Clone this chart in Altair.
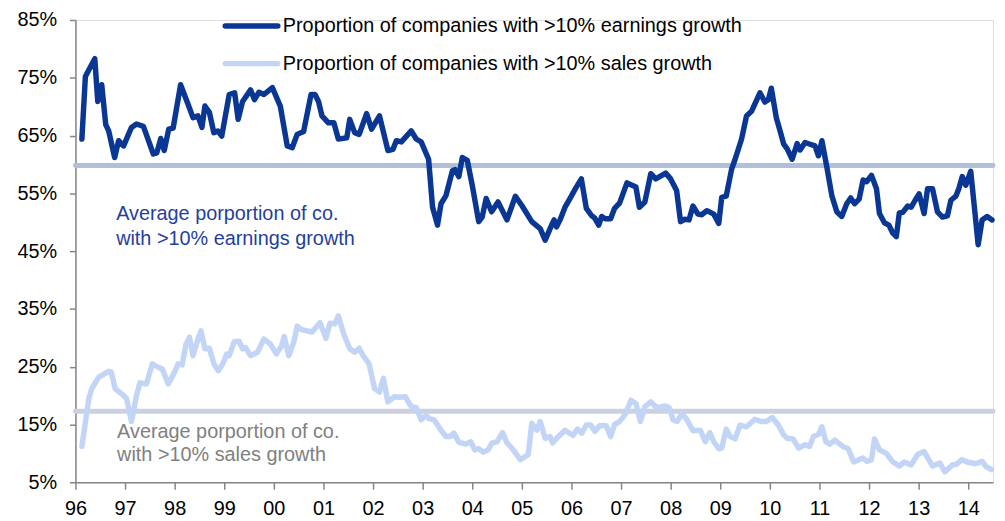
import altair as alt
import pandas as pd

# ---------------- data ----------------
earn_t = [1996.13, 1996.20, 1996.39, 1996.45, 1996.53, 1996.61, 1996.67, 1996.79, 1996.87, 1996.97,
          1997.13, 1997.23, 1997.37, 1997.57, 1997.64, 1997.72, 1997.79, 1997.88, 1997.97,
          1998.12, 1998.27, 1998.37, 1998.47, 1998.55, 1998.61, 1998.70, 1998.79, 1998.87, 1998.95,
          1999.10, 1999.21, 1999.28, 1999.37, 1999.53, 1999.61, 1999.70, 1999.80, 1999.97,
          2000.13, 2000.27, 2000.37, 2000.47, 2000.60, 2000.75, 2000.83, 2000.90, 2000.97,
          2001.10, 2001.21, 2001.30, 2001.47, 2001.53, 2001.63, 2001.72, 2001.87, 2001.97,
          2002.13, 2002.30, 2002.40, 2002.47, 2002.57, 2002.77, 2002.87, 2002.97,
          2003.12, 2003.20, 2003.30, 2003.37, 2003.47, 2003.60, 2003.65, 2003.73, 2003.80, 2003.90,
          2004.00, 2004.13, 2004.20, 2004.28, 2004.39, 2004.52, 2004.70, 2004.87,
          2005.00, 2005.20, 2005.37, 2005.47, 2005.60, 2005.65, 2005.70, 2005.77, 2005.87, 2005.97,
          2006.08, 2006.20, 2006.30, 2006.40, 2006.47, 2006.55, 2006.61, 2006.68, 2006.79, 2006.87, 2006.97,
          2007.12, 2007.30, 2007.37, 2007.48, 2007.60, 2007.70, 2007.90,
          2008.00, 2008.12, 2008.20, 2008.28, 2008.37, 2008.45, 2008.55, 2008.63, 2008.73, 2008.87, 2008.97,
          2009.03, 2009.12, 2009.23, 2009.30, 2009.43, 2009.53, 2009.63, 2009.80, 2009.90, 2009.97,
          2010.03, 2010.13, 2010.20, 2010.28, 2010.35, 2010.45, 2010.55, 2010.61, 2010.71, 2010.81, 2010.91, 2010.98,
          2011.05, 2011.15, 2011.25, 2011.35, 2011.45, 2011.55, 2011.63, 2011.71, 2011.80, 2011.88, 2011.95,
          2012.05, 2012.15, 2012.21, 2012.31, 2012.40, 2012.48, 2012.55, 2012.61, 2012.68, 2012.78, 2012.85, 2012.93,
          2013.01, 2013.11, 2013.18, 2013.28, 2013.38, 2013.48, 2013.58, 2013.65, 2013.75, 2013.81, 2013.88, 2013.95,
          2014.05, 2014.13, 2014.20, 2014.28, 2014.38, 2014.48]
earn_v = [64.4, 75.2, 78.3, 70.9, 73.8, 66.9, 65.8, 61.2, 64.1, 63.2,
          66.4, 67.0, 66.6, 61.8, 62.0, 64.5, 62.4, 66.1, 66.3,
          73.8, 70.4, 68.1, 68.4, 66.4, 70.1, 69.0, 65.5, 65.8, 64.9,
          72.1, 72.4, 67.8, 70.9, 72.9, 71.2, 72.5, 72.1, 73.3,
          70.1, 63.2, 62.9, 65.2, 65.7, 72.1, 72.1, 70.9, 68.4,
          67.2, 67.2, 64.4, 64.6, 67.8, 65.5, 65.2, 68.8, 66.1,
          68.4, 62.4, 62.6, 64.1, 63.9, 65.8, 64.4, 63.9,
          60.9, 52.6, 49.5, 53.2, 54.6, 58.9, 59.1, 57.9, 61.2, 60.7,
          56.4, 50.1, 50.9, 54.1, 51.8, 53.5, 50.4, 54.5,
          52.9, 50.1, 48.9, 46.9, 49.5, 50.4, 49.2, 50.4, 52.6, 54.1,
          55.8, 57.5, 52.4, 51.2, 50.7, 49.5, 51.0, 50.6, 50.6, 52.4, 53.3,
          56.8, 56.1, 52.6, 53.5, 58.4, 57.5, 58.5,
          57.5, 55.5, 50.1, 50.5, 50.4, 52.8, 51.4, 51.3, 52.0, 51.4, 49.8,
          54.3, 54.5, 59.2, 60.9, 64.4, 68.4, 69.2, 72.4, 70.8, 71.2,
          73.2, 68.1, 66.0, 63.5, 62.7, 60.9, 63.6, 62.5, 63.8, 63.5, 63.2, 61.5,
          64.1, 59.5, 54.6, 51.8, 51.0, 53.2, 54.2, 53.2, 54.0, 57.3, 57.0,
          58.1, 55.8, 51.5, 49.9, 49.5, 48.1, 47.5, 51.6, 51.7, 52.8, 52.6, 53.8,
          54.9, 51.5, 55.8, 55.8, 51.8, 50.9, 51.1, 53.8, 54.5, 55.8, 57.9, 56.4,
          58.8, 52.1, 46.1, 50.4, 51.0, 50.4]

sales_t = [1996.13, 1996.27, 1996.33, 1996.47, 1996.67, 1996.72, 1996.80, 1996.93, 1997.03, 1997.13,
           1997.23, 1997.30, 1997.43, 1997.55, 1997.67, 1997.75, 1997.87, 1998.00, 1998.07, 1998.15,
           1998.23, 1998.30, 1998.37, 1998.47, 1998.53, 1998.61, 1998.70, 1998.79, 1998.88, 1998.97,
           1999.05, 1999.10, 1999.20, 1999.30, 1999.37, 1999.43, 1999.53, 1999.67, 1999.80, 1999.93,
           2000.05, 2000.15, 2000.21, 2000.30, 2000.40, 2000.47, 2000.56, 2000.77, 2000.93,
           2001.05, 2001.13, 2001.23, 2001.30, 2001.41, 2001.53, 2001.63, 2001.72, 2001.80, 2001.92,
           2002.03, 2002.13, 2002.21, 2002.30, 2002.43, 2002.55, 2002.65, 2002.77, 2002.87, 2002.97,
           2003.07, 2003.13, 2003.23, 2003.37, 2003.47, 2003.55, 2003.63, 2003.73, 2003.87, 2003.97,
           2004.05, 2004.13, 2004.23, 2004.32, 2004.40, 2004.50, 2004.61, 2004.70, 2004.80, 2004.97,
           2005.13, 2005.20, 2005.30, 2005.37, 2005.47, 2005.57, 2005.62, 2005.70, 2005.87,
           2006.03, 2006.12, 2006.21, 2006.30, 2006.39, 2006.47, 2006.57, 2006.70, 2006.79, 2006.87, 2006.97,
           2007.08, 2007.20, 2007.30, 2007.39, 2007.48, 2007.60, 2007.72, 2007.90, 2007.97,
           2008.05, 2008.13, 2008.23, 2008.33, 2008.45, 2008.60, 2008.70, 2008.79, 2008.87, 2008.97,
           2009.03, 2009.12, 2009.20, 2009.30, 2009.40, 2009.53, 2009.70, 2009.83, 2009.93,
           2010.05, 2010.17, 2010.28, 2010.35, 2010.47, 2010.58, 2010.71, 2010.80, 2010.88, 2010.98,
           2011.05, 2011.13, 2011.21, 2011.31, 2011.47, 2011.58, 2011.69, 2011.87, 2011.96,
           2012.05, 2012.11, 2012.21, 2012.35, 2012.47, 2012.61, 2012.71, 2012.85, 2012.98,
           2013.11, 2013.28, 2013.43, 2013.53, 2013.68, 2013.76, 2013.87, 2013.98,
           2014.15, 2014.28, 2014.36, 2014.47]
sales_v = [11.2, 19.5, 21.2, 23.2, 24.2, 24.1, 21.2, 20.3, 19.5, 15.5,
           20.0, 22.2, 22.0, 25.5, 24.9, 24.6, 22.0, 24.1, 25.5, 25.3,
           28.9, 30.1, 26.9, 29.8, 31.2, 28.1, 28.2, 25.5, 24.3, 25.5,
           27.2, 26.9, 29.3, 29.4, 28.1, 28.3, 26.9, 27.5, 29.8, 28.9,
           27.2, 28.5, 30.2, 26.9, 29.2, 32.0, 31.4, 31.0, 32.6,
           29.9, 32.5, 32.4, 33.8, 30.6, 28.1, 27.5, 28.2, 26.9, 25.5,
           21.2, 20.6, 23.0, 18.9, 19.8, 19.7, 19.8, 18.1, 17.9, 15.8,
           16.6, 16.0, 15.8, 14.0, 12.9, 12.9, 13.5, 11.9, 11.6, 12.0,
           10.6, 10.8, 10.2, 10.6, 11.8, 12.0, 13.6, 11.8, 10.9, 8.9,
           9.8, 15.2, 14.0, 15.5, 12.6, 12.9, 11.8, 12.6, 14.0,
           13.1, 14.2, 13.5, 14.9, 14.9, 13.8, 14.8, 14.8, 12.9, 15.0, 15.5,
           16.7, 19.2, 18.6, 15.5, 18.1, 18.9, 17.9, 18.2, 17.9,
           15.8, 15.5, 16.9, 15.8, 13.9, 14.0, 12.0, 13.6, 12.0, 10.8,
           10.9, 14.2, 12.9, 12.5, 14.9, 14.6, 15.9, 15.5, 15.5,
           16.2, 14.9, 13.2, 12.6, 12.5, 10.9, 11.5, 11.2, 12.9, 13.3,
           14.6, 12.0, 11.6, 12.3, 11.2, 10.8, 8.5, 9.2, 8.6,
           8.9, 12.5, 10.6, 10.0, 8.6, 7.8, 8.5, 8.0, 9.8,
           10.3, 7.8, 8.3, 6.8, 8.0, 8.1, 8.9, 8.5,
           8.2, 8.6, 7.7, 7.2]

earn_avg = 59.8
sales_avg = 17.3

series_names = ["Proportion of companies with >10% earnings growth",
                "Proportion of companies with >10% sales growth"]
annot_earn = "Average porportion of co.\nwith >10% earnings growth"
annot_sales = "Average porportion of co.\nwith >10% sales growth"
year_ticks = list(range(1996, 2015))
pct_ticks = [5, 15, 25, 35, 45, 55, 65, 75, 85]

# ---------------- styling ----------------
FONT = "Liberation Sans"
FS = 20
EARN_C = "#0A3694"
SALES_C = "#C3D5F7"
EARN_AVG_C = "#B1BFDA"
SALES_AVG_C = "#CBD1E2"
AXIS_C = "#868686"
LW = 5.5

xscale = alt.Scale(domain=[1996, 2014.5], nice=False, zero=False)
yscale = alt.Scale(domain=[5, 85], nice=False, zero=False)

x_axis = alt.Axis(values=year_ticks, labelExpr="substring(toString(datum.value), 2, 4)",
                  title=None, grid=False, domainColor=AXIS_C, domainWidth=1.5,
                  tickColor=AXIS_C, tickWidth=1.5, tickSize=7, labelPadding=10,
                  labelFlush=False, labelOverlap=False,
                  labelFont=FONT, labelFontSize=FS, labelColor="black")
y_axis = alt.Axis(values=pct_ticks, labelExpr="datum.value + '%'",
                  title=None, grid=False, domainColor=AXIS_C, domainWidth=1.5,
                  tickColor=AXIS_C, tickWidth=1.5, tickSize=6, labelPadding=13,
                  labelFlush=False, labelOverlap=False,
                  labelFont=FONT, labelFontSize=FS, labelColor="black")

earn_df = pd.DataFrame({"t": earn_t, "v": earn_v})
sales_df = pd.DataFrame({"t": sales_t, "v": sales_v})

earn_avg_rule = alt.Chart(pd.DataFrame({"v": [earn_avg]})).mark_rule(
    color=EARN_AVG_C, strokeWidth=5, strokeCap="round").encode(
    y=alt.Y("v:Q", scale=yscale, axis=y_axis))
sales_avg_rule = alt.Chart(pd.DataFrame({"v": [sales_avg]})).mark_rule(
    color=SALES_AVG_C, strokeWidth=5, strokeCap="round").encode(
    y=alt.Y("v:Q", scale=yscale, axis=y_axis))

earn_line = alt.Chart(earn_df).mark_line(
    color=EARN_C, strokeWidth=LW, strokeJoin="round", strokeCap="round").encode(
    x=alt.X("t:Q", scale=xscale, axis=x_axis),
    y=alt.Y("v:Q", scale=yscale, axis=y_axis))
sales_line = alt.Chart(sales_df).mark_line(
    color=SALES_C, strokeWidth=LW, strokeJoin="round", strokeCap="round").encode(
    x=alt.X("t:Q", scale=xscale, axis=x_axis),
    y=alt.Y("v:Q", scale=yscale, axis=y_axis))

one = pd.DataFrame({"k": [0]})

# manual legend
leg1_sym = alt.Chart(one).mark_rule(color=EARN_C, strokeWidth=LW, strokeCap="round").encode(
    x=alt.value(151), x2=alt.value(204), y=alt.value(6))
leg2_sym = alt.Chart(one).mark_rule(color=SALES_C, strokeWidth=LW, strokeCap="round").encode(
    x=alt.value(151), x2=alt.value(204), y=alt.value(44))
leg1_txt = alt.Chart(one).mark_text(align="left", baseline="middle", font=FONT, fontSize=FS,
                                    color="black").encode(
    x=alt.value(209), y=alt.value(6), text=alt.value(series_names[0]))
leg2_txt = alt.Chart(one).mark_text(align="left", baseline="middle", font=FONT, fontSize=FS,
                                    color="black").encode(
    x=alt.value(209), y=alt.value(44), text=alt.value(series_names[1]))

# annotations (first line centre given; following lines go below)
ann1 = alt.Chart(one).mark_text(align="left", baseline="middle", font=FONT, fontSize=FS,
                                color="#1F3F9E", lineBreak="\n", lineHeight=25).encode(
    x=alt.value(41), y=alt.value(196), text=alt.value(annot_earn))
ann2 = alt.Chart(one).mark_text(align="left", baseline="middle", font=FONT, fontSize=FS,
                                color="#808080", lineBreak="\n", lineHeight=24).encode(
    x=alt.value(42), y=alt.value(415), text=alt.value(annot_sales))

chart = alt.layer(
    earn_avg_rule, sales_avg_rule, sales_line, ann2, earn_line, ann1,
    leg1_sym, leg2_sym, leg1_txt, leg2_txt
).properties(
    width=925, height=466,
    autosize=alt.AutoSizeParams(type="none"),
    padding={"left": 68, "top": 10, "right": 4, "bottom": 36},
).configure_view(strokeWidth=0).configure(background="white")

chart.save("out.html", embed_options={"renderer": "svg", "actions": False})
